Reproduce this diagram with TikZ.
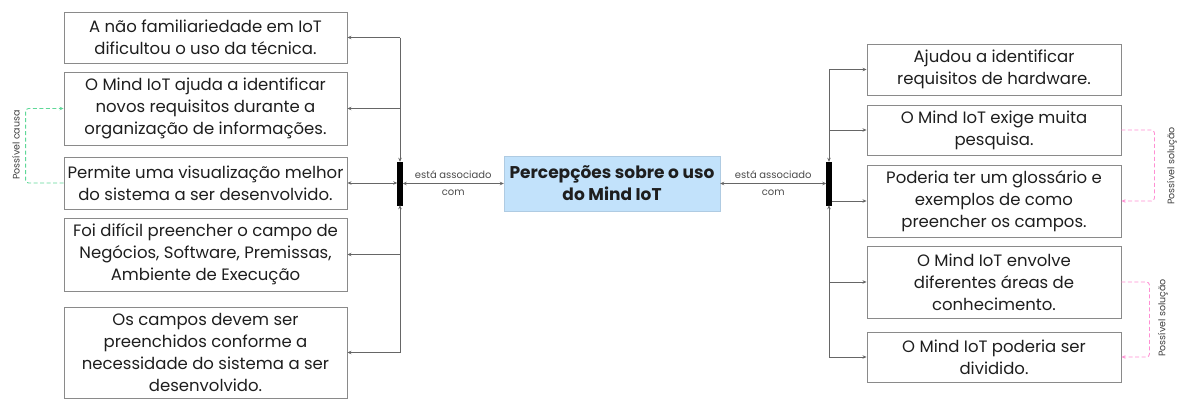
\documentclass[tikz,border=0pt]{standalone}
\usepackage{fontspec}
\setmainfont{Poppins}
\usetikzlibrary{arrows.meta}
\definecolor{boxline}{HTML}{8A8A8A}
\definecolor{conn}{HTML}{666666}
\definecolor{txt}{HTML}{1E1E1E}
\definecolor{centerfill}{HTML}{C2E2FB}
\definecolor{gdash}{HTML}{5FD898}
\definecolor{pdash}{HTML}{FF8FD3}
\tikzset{
  box/.style={draw=boxline, line width=0.9pt, minimum width=283pt, align=center, text=txt,
    font=\fontsize{16.5}{22}\selectfont, inner sep=0pt},
  rbox/.style={box, minimum width=254pt},
  cbox/.style={draw=centerfill!90!black, fill=centerfill, minimum width=216pt, minimum height=55pt,
    align=center, text=txt, font=\fontsize{17}{22}\selectfont\bfseries, inner sep=0pt},
  bar/.style={fill=black, draw=black, minimum width=5pt, minimum height=43pt, inner sep=0pt},
  conline/.style={draw=conn, line width=0.9pt, rounded corners=3pt, -{Stealth[length=4pt,width=3.5pt]}},
  biline/.style={draw=conn, line width=0.9pt, {Stealth[length=4pt,width=3.5pt]}-{Stealth[length=4pt,width=3.5pt]}},
  small/.style={font=\fontsize{10}{17}\selectfont, text=txt!80, align=center, inner sep=0pt},
  side/.style={font=\fontsize{9.5}{11}\selectfont, text=txt!85, rotate=90, inner sep=0pt},
  gline/.style={draw=gdash, line width=0.9pt, dash pattern=on 4pt off 2.5pt, rounded corners=3pt, -{Stealth[length=4pt,width=3.5pt]}},
  pline/.style={draw=pdash, line width=0.9pt, dash pattern=on 4pt off 2.5pt, rounded corners=3pt, -{Stealth[length=4pt,width=3.5pt]}},
}
\begin{document}
\begin{tikzpicture}[x=1pt,y=-1pt]
\useasboundingbox (0,0) rectangle (1181,399);
% left boxes
\node[box, minimum height=51pt] (L1) at (205.5,37.5) {A não familiariedade em IoT\\dificultou o uso da técnica.};
\node[box, minimum height=73pt] (L2) at (205.5,108.5) {O Mind IoT ajuda a identificar\\novos requisitos durante a\\organização de informações.};
\node[box, minimum height=52pt] (L3) at (205.5,183) {Permite uma visualização melhor\\do sistema a ser desenvolvido.};
\node[box, minimum height=73pt] (L4) at (205.5,254.5) {Foi difícil preencher o campo de\\Negócios, Software, Premissas,\\Ambiente de Execução};
\node[box, minimum height=91pt] (L5) at (205.5,352.5) {Os campos devem ser\\preenchidos conforme a\\necessidade do sistema a ser\\desenvolvido.};
% right boxes
\node[rbox, minimum height=51pt] (R1) at (994,69.5) {Ajudou a identificar\\requisitos de hardware.};
\node[rbox, minimum height=50pt] (R2) at (994,130) {O Mind IoT exige muita\\pesquisa.};
\node[rbox, minimum height=72pt] (R3) at (994,201) {Poderia ter um glossário e\\exemplos de como\\preencher os campos.};
\node[rbox, minimum height=72pt] (R4) at (994,282) {O Mind IoT envolve\\diferentes áreas de\\conhecimento.};
\node[rbox, minimum height=50pt] (R5) at (994,357) {O Mind IoT poderia ser\\dividido.};
% center
\node[cbox] (C) at (612,183.5) {Percepções sobre o uso\\do Mind IoT};
% bars
\node[bar] (BL) at (400,183.5) {};
\node[bar] (BR) at (829,183.5) {};
% junction coordinates
\coordinate (LT) at (400,37.5);
\coordinate (LB) at (400,352.5);
\coordinate (RT) at (829,69.5);
\coordinate (RB) at (829,357);
% left branches
\draw[conline] (LT) -- (L1.east);
\draw[conline] (400,108.5) -- (L2.east);
\draw[conline] (LT) -- (BL.north);
\draw[conline] (LB) -- (BL.south);
\draw[conline] (400,254.5) -- (L4.east);
\draw[conline] (LB) -- (L5.east);
\draw[biline] (BL.west |- L3.east) -- (L3.east);
% right branches
\draw[conline] (RT) -- (R1.west);
\draw[conline] (829,130) -- (R2.west);
\draw[conline] (RT) -- (BR.north);
\draw[conline] (RB) -- (BR.south);
\draw[conline] (BR.east |- R3.west) -- (R3.west);
\draw[conline] (829,282) -- (R4.west);
\draw[conline] (RB) -- (R5.west);
% center links
\draw[biline] (BL.east |- C.west) -- (C.west) node[small, midway] (al) {está associado\\com};
\draw[biline] (C.east) -- (BR.west |- C.east) node[small, midway] (ar) {está associado\\com};
% dashed relations
\draw[gline] (L3.west) -- ([xshift=-38pt]L3.west) |- (L2.west);
\node[side] (gl) at (16,145) {Possível causa};
\draw[pline] (R2.east) -- ([xshift=33pt]R2.east) |- (R3.east);
\node[side] (pl1) at (1172,166) {Possível solução};
\draw[pline] (R4.east) -- ([xshift=28pt]R4.east) |- (R5.east);
\node[side] (pl2) at (1163,318) {Possível solução};
\end{tikzpicture}
\end{document}
